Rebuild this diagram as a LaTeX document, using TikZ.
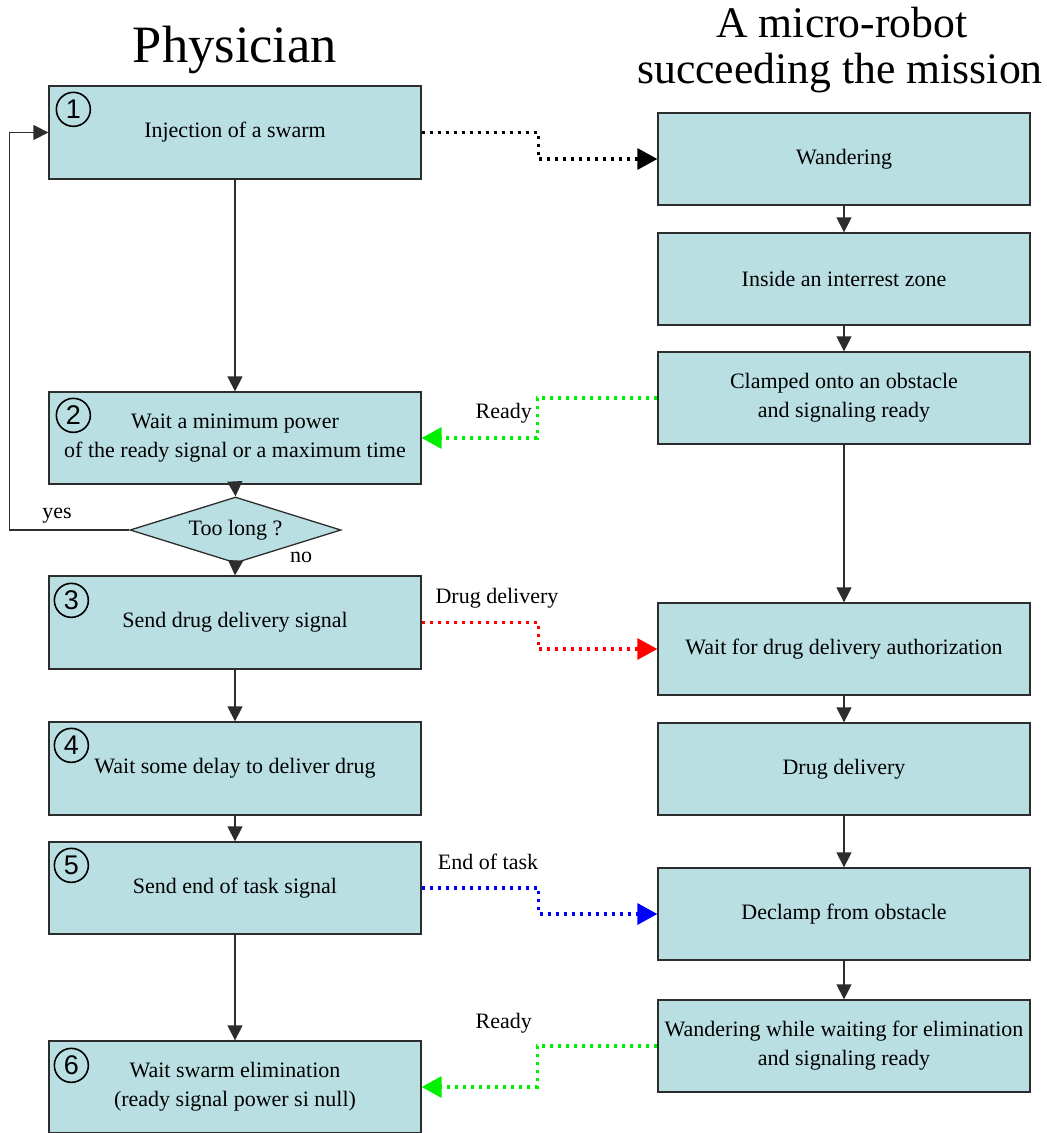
\documentclass[tikz,border=0pt]{standalone}
\usepackage{fontspec}
\setmainfont{Liberation Serif}
\newfontfamily\numfont{Liberation Sans}
\usetikzlibrary{arrows.meta,shapes.geometric}
\definecolor{boxfill}{RGB}{186,223,227}
\definecolor{edge}{RGB}{45,45,45}
\definecolor{sigred}{RGB}{255,0,0}
\definecolor{siggreen}{RGB}{0,240,0}
\definecolor{sigblue}{RGB}{0,0,255}
\tikzset{
  stepbox/.style={rectangle, draw=edge, line width=1.3pt, fill=boxfill,
    minimum width=372pt, minimum height=92pt, inner sep=0pt, align=center,
    font=\fontsize{22}{29}\selectfont},
  decbox/.style={diamond, draw=edge, line width=1.3pt, fill=boxfill,
    minimum width=211pt, minimum height=66pt, inner sep=0pt, aspect=3.2,
    font=\fontsize{22}{29}\selectfont},
  circnum/.style={circle, draw=black, line width=1.6pt, minimum size=34pt,
    inner sep=0pt, font=\numfont\fontsize{27}{27}\selectfont},
  lbl/.style={inner sep=0pt, font=\fontsize{22}{26}\selectfont},
  flow/.style={draw=edge, line width=1.3pt, -{Triangle[length=15pt,width=15pt]}},
  signal/.style={line width=3.3pt, dash pattern=on 3.3pt off 4.7pt,
    -{Triangle[length=20pt,width=21pt]}},
}
\begin{document}
\begin{tikzpicture}[x=1pt,y=-1pt]
\useasboundingbox (0,0) rectangle (1047,1133);

% titles
\node[inner sep=0pt, anchor=base, font=\fontsize{52.5}{56}\selectfont] (t1) at (235,62) {Physician};
\node[inner sep=0pt, anchor=base, font=\fontsize{43.7}{46}\selectfont] (t2a) at (842,37) {A micro-robot};
\node[inner sep=0pt, anchor=base, font=\fontsize{43.7}{46}\selectfont] (t2b) at (840,83) {succeeding the mission};

% physician column
\node[stepbox, minimum height=93pt] (b1) at (235,132.5) {Injection of a swarm};
\node[stepbox] (b2) at (235,438) {Wait a minimum power\\of the ready signal or a maximum time};
\node[decbox] (d) at (235.5,530) {Too long ?};
\node[stepbox, minimum height=93pt] (b3) at (235,622.5) {Send drug delivery signal};
\node[stepbox, minimum height=93pt] (b4) at (235,768.5) {\hspace*{36pt}Wait some delay to deliver drug\hspace*{36pt}};
\node[stepbox] (b5) at (235,888) {Send end of task signal};
\node[stepbox] (b6) at (235,1087) {Wait swarm elimination\\(ready signal power si null)};

% circled numbers
\node[circnum] (n1) at ([shift={(25,24)}]b1.north west) {1};
\node[circnum] (n2) at ([shift={(25,24)}]b2.north west) {2};
\node[circnum] (n3) at ([shift={(23,25)}]b3.north west) {3};
\node[circnum] (n4) at ([shift={(23,24)}]b4.north west) {4};
\node[circnum] (n5) at ([shift={(23,24)}]b5.north west) {5};
\node[circnum] (n6) at ([shift={(23,25)}]b6.north west) {6};

% robot column
\node[stepbox] (r1) at (844,159) {Wandering};
\node[stepbox] (r2) at (844,279) {Inside an interrest zone};
\node[stepbox] (r3) at (844,398) {Clamped onto an obstacle\\and signaling ready};
\node[stepbox] (r4) at (844,649) {Wait for drug delivery authorization};
\node[stepbox] (r5) at (844,769) {Drug delivery};
\node[stepbox] (r6) at (844,914) {Declamp from obstacle};
\node[stepbox] (r7) at (844,1046) {Wandering while waiting for elimination\\and signaling ready};

% physician flow
\draw[flow] (b1.south) -- (b2.north);
\draw[flow] (b2.south) -- (d.north);
\draw[flow] (d.south) -- (b3.north);
\draw[flow] (b3.south) -- (b4.north);
\draw[flow] (b4.south) -- (b5.north);
\draw[flow] (b5.south) -- (b6.north);
\draw[flow] (d.west) -- ++(-120,0) |- (b1.west);
\node[lbl] (yes) at (57,516) {yes};
\node[lbl] (no) at (301,557) {no};

% robot flow
\draw[flow] (r1.south) -- (r2.north);
\draw[flow] (r2.south) -- (r3.north);
\draw[flow] (r3.south) -- (r4.north);
\draw[flow] (r4.south) -- (r5.north);
\draw[flow] (r5.south) -- (r6.north);
\draw[flow] (r6.south) -- (r7.north);

% signals
\draw[signal, black] (b1.east) -- ++(117,0) |- (r1.west);
\draw[signal, siggreen] (r3.west) -- ++(-120,0) |- (b2.east);
\draw[signal, sigred] (b3.east) -- ++(117,0) |- (r4.west);
\draw[signal, sigblue] (b5.east) -- ++(117,0) |- (r6.west);
\draw[signal, siggreen] (r7.west) -- ++(-120,0) |- (b6.east);

\node[lbl, anchor=east] (lr1) at (532,413) {Ready};
\node[lbl] (ldd) at (497,598) {Drug delivery};
\node[lbl] (let) at (488,862) {End of task};
\node[lbl, anchor=east] (lr2) at (532,1023) {Ready};
\end{tikzpicture}
\end{document}
